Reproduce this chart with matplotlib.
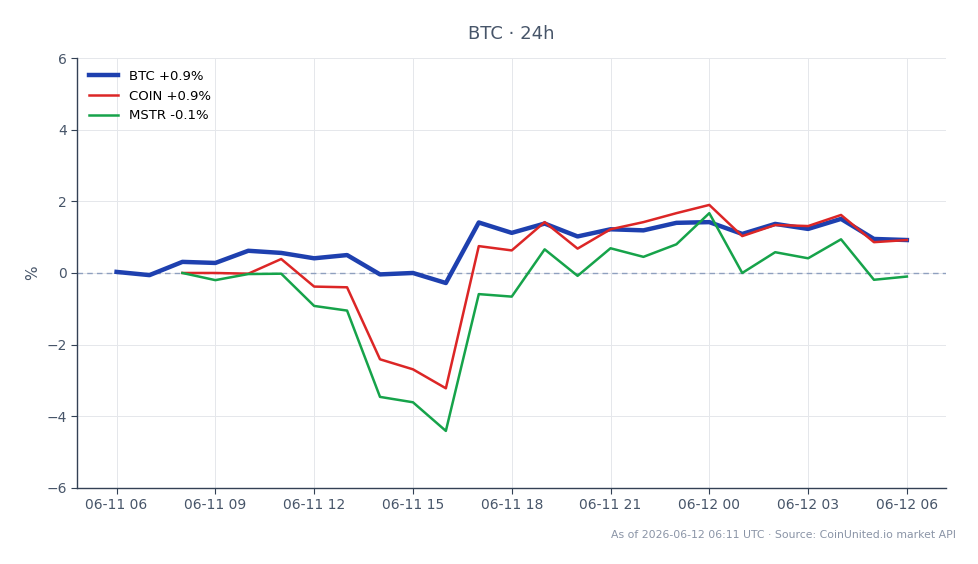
import matplotlib
matplotlib.use("Agg")
import matplotlib.pyplot as plt
import matplotlib.dates as mdates
import numpy as np
import pandas as pd

times = pd.date_range("2026-06-11 06:00", "2026-06-12 06:00", freq="h")
btc = [0.03, -0.06, 0.31, 0.28, 0.62, 0.56, 0.41, 0.50, -0.04, 0.0, -0.28,
       1.41, 1.12, 1.38, 1.02, 1.22, 1.19, 1.40, 1.42, 1.09, 1.37, 1.23, 1.51, 0.95, 0.92]
coin = [np.nan, np.nan, 0.0, 0.0, -0.02, 0.39, -0.38, -0.40, -2.41, -2.69, -3.22,
        0.75, 0.63, 1.42, 0.68, 1.22, 1.42, 1.67, 1.90, 1.03, 1.34, 1.31, 1.62, 0.86, 0.92]
mstr = [np.nan, np.nan, 0.0, -0.20, -0.03, -0.02, -0.92, -1.05, -3.46, -3.61, -4.41,
        -0.59, -0.66, 0.66, -0.08, 0.69, 0.45, 0.80, 1.67, 0.0, 0.58, 0.41, 0.94, -0.19, -0.10]
labels = ["BTC +0.9%", "COIN +0.9%", "MSTR -0.1%"]
colors = ["#1e40af", "#dc2626", "#16a34a"]

text_c = "#475569"
fig = plt.figure(figsize=(9.79, 5.64), dpi=100)
ax = fig.add_axes([0.0787, 0.135, 0.888, 0.762])

ax.plot(times, btc, color=colors[0], lw=3.2, label=labels[0], zorder=3)
ax.plot(times, coin, color=colors[1], lw=1.8, label=labels[1], zorder=3)
ax.plot(times, mstr, color=colors[2], lw=1.8, label=labels[2], zorder=3)
ax.axhline(0, color="#8fa0bf", lw=1, ls=(0, (4, 3)), zorder=2)

ax.set_ylim(-6, 6)
ax.set_yticks([-6, -4, -2, 0, 2, 4, 6])
ax.set_yticklabels(["\u22126", "\u22124", "\u22122", "0", "2", "4", "6"])
ax.xaxis.set_major_locator(mdates.HourLocator(byhour=[0, 3, 6, 9, 12, 15, 18, 21]))
ax.xaxis.set_major_formatter(mdates.DateFormatter("%m-%d %H"))
ax.margins(x=0.05)

for s in ["top", "right"]:
    ax.spines[s].set_visible(False)
for s in ["left", "bottom"]:
    ax.spines[s].set_color("#334155")
    ax.spines[s].set_linewidth(1.0)
ax.tick_params(colors="#334155", labelcolor=text_c, labelsize=10, length=4)
ax.grid(True, color="#e5e7eb", lw=0.7)
ax.set_axisbelow(True)
ax.set_ylabel("%", color=text_c, fontsize=11)

ax.set_title("BTC \u00b7 24h", color=text_c, fontsize=13, pad=14)
leg = ax.legend(loc="upper left", frameon=False, fontsize=9.5, handlelength=2.2)

fig.text(0.976, 0.052, "As of 2026-06-12 06:11 UTC \u00b7 Source: CoinUnited.io market API",
         ha="right", va="center", fontsize=7.8, color="#8a94a6")

fig.savefig("out.png", dpi=100, facecolor="white")
